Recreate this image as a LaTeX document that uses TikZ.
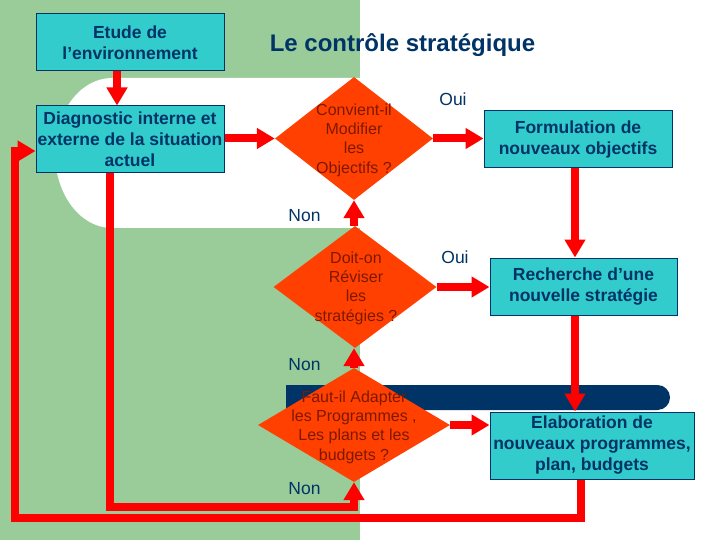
\documentclass[tikz,border=0pt]{standalone}
\usepackage{fontspec}
\setmainfont{Liberation Sans}
\usetikzlibrary{arrows.meta,shapes.geometric,calc}
\definecolor{bggreen}{RGB}{153,204,153}
\definecolor{navy}{RGB}{0,51,102}
\definecolor{boxcyan}{RGB}{51,204,204}
\definecolor{diamred}{RGB}{255,64,0}
\definecolor{diamtext}{RGB}{125,25,0}
\definecolor{arrred}{RGB}{255,0,0}
\tikzset{
  box/.style={draw=navy, line width=1pt, fill=boxcyan, inner sep=0pt,
    align=center, text=navy, font=\fontsize{17.5}{21}\selectfont\bfseries},
  decision/.style={diamond, fill=diamred, draw=none, inner sep=0pt},
  dtext/.style={align=center, text=diamtext, inner sep=0pt,
    font=\fontsize{16}{19.3}\selectfont},
  lbl/.style={text=navy, anchor=base, inner sep=0pt, font=\fontsize{17.5}{21}\selectfont},
  arr/.style={draw=arrred, line width=8pt, line join=miter,
    -{Triangle[length=18pt,width=20pt]}},
}
\begin{document}
\begin{tikzpicture}[x=1pt,y=-1pt]
\useasboundingbox (0,0) rectangle (720,540);
% background
\fill[white] (0,0) rectangle (720,540);
\fill[bggreen] (0,0) rectangle (360,540);
\fill[white] (400,78) -- (112,78) arc[start angle=-90,end angle=-270,x radius=57,y radius=75] -- (400,228) -- cycle;
\fill[navy] (286,385) -- (657.5,385) arc[start angle=-90,end angle=90,radius=12.5] -- (286,410) -- cycle;

% title
\node[anchor=base, text=navy, inner sep=0pt, font=\fontsize{24}{28}\selectfont\bfseries] (title) at (402.5,52) {Le contrôle stratégique};

% boxes
\node[box, minimum width=188pt, minimum height=57pt] (b1) at (130,42.5) {Etude de\\l’environnement};
\node[box, minimum width=188pt, minimum height=67pt] (b2) at (130,139.5) {Diagnostic interne et\\externe de la situation\\actuel};
\node[box, minimum width=188pt, minimum height=57pt] (b3) at (578,139.5) {Formulation de\\nouveaux objectifs};
\node[box, minimum width=187pt, minimum height=57pt] (b4) at (583.5,286.5) {Recherche d’une\\nouvelle stratégie};
\node[box, minimum width=204pt, minimum height=67pt] (b5) at (592,445.5) {Elaboration de\\nouveaux programmes,\\plan, budgets};

% decisions
\node[decision, minimum width=158pt, minimum height=123pt] (d1) at (354,138.5) {};
\node[decision, minimum width=163pt, minimum height=122pt] (d2) at (355,287) {};
\node[decision, minimum width=192pt, minimum height=114pt] (d3) at (354,425) {};
\node[dtext] (t1) at (354,140) {Convient-il\\Modifier\\les\\Objectifs ?};
\node[dtext] (t2) at (356,288) {Doit-on\\Réviser\\les\\stratégies ?};
\node[dtext] (t3) at (354,427) {Faut-il Adapter\\les Programmes ,\\Les plans et les\\budgets ?};

% labels
\node[lbl] (oui1) at (453,106) {Oui};
\node[lbl] (oui2) at (455,263) {Oui};
\node[lbl] (non1) at (304.5,222) {Non};
\node[lbl] (non2) at (304.5,370) {Non};
\node[lbl] (non3) at (304.5,494) {Non};

% connectors
\draw[arr] (117,0 |- b1.south) -- (117,0 |- b2.north);
\draw[arr] (b2.east |- d1.west) -- (d1.west);
\draw[arr] (d1.east) -- (d1.east -| b3.west);
\draw[arr] (575,0 |- b3.south) -- (575,0 |- b4.north);
\draw[arr] (354,0 |- d2.north) -- (d1.south);
\draw[arr] (d2.east) -- (d2.east -| b4.west);
\draw[arr] (d3.north) -- (354,0 |- d2.south);
\draw[arr] (575,0 |- b4.south) -- (575,0 |- b5.north);
\draw[arr] (d3.east) -- (d3.east -| b5.west);
\draw[arr] (581,0 |- b5.south) -- (581,518) -- (15,518) -- (15,151) -- (15,151 -| b2.west);
\draw[arr] (110,0 |- b2.south) -- (110,507) -- (354,507) -- (d3.south);
\end{tikzpicture}
\end{document}
